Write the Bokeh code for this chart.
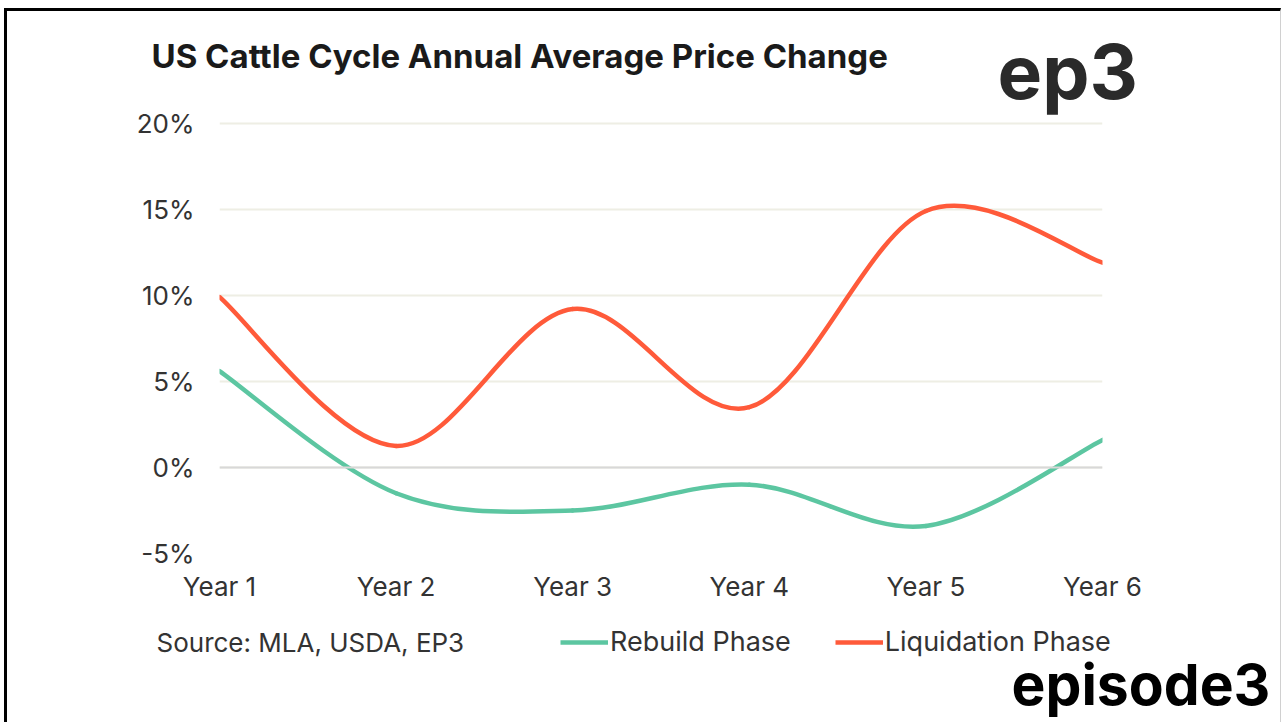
from bokeh.plotting import figure
from bokeh.layouts import column
from bokeh.models import (Range1d, FixedTicker, PrintfTickFormatter, Span, Label,
                          Legend, LegendItem)
from bokeh.embed import file_html
from bokeh.resources import INLINE

years = ["Year 1", "Year 2", "Year 3", "Year 4", "Year 5", "Year 6"]
rebuild = [5.6, -1.5, -2.5, -1.0, -3.4, 1.6]
liquidation = [9.9, 1.25, 9.2, 3.5, 14.9, 11.9]
y_ticks = [-5, 0, 5, 10, 15, 20]

FONT = "Inter"
TXT = "#333333"
TEAL = "#5CC6A1"
ORANGE = "#FF5A3A"
W = 1273

# ---- main chart (title in top panel, logo in right panel)
p = figure(width=W, height=597, output_backend="svg", toolbar_location=None,
           x_range=Range1d(0, len(years) - 1), y_range=Range1d(-5, 20.1),
           min_border_left=212, min_border_right=178, min_border_top=110,
           min_border_bottom=55)
p.frame_align = False
p.outline_line_color = None
xs = list(range(len(years)))
p.xaxis.ticker = FixedTicker(ticks=xs)
p.xaxis.major_label_overrides = {i: y for i, y in enumerate(years)}
p.yaxis.ticker = FixedTicker(ticks=y_ticks)
p.yaxis.formatter = PrintfTickFormatter(format="%d%%")
for ax in (p.xaxis[0], p.yaxis[0]):
    ax.axis_line_color = None
    ax.major_tick_line_color = None
    ax.minor_tick_line_color = None
    ax.major_label_text_font = FONT
    ax.major_label_text_font_size = "26px"
    ax.major_label_text_color = TXT
p.yaxis.major_label_standoff = 19
p.xaxis.major_label_standoff = 11
p.xgrid.grid_line_color = None
p.ygrid.grid_line_color = "#EEEEE4"
p.ygrid.grid_line_width = 2
p.add_layout(Span(location=0, dimension="width", line_color="#D8D8D8", line_width=2))


def bez(vals):
    n = len(vals)
    P = list(zip(xs, vals))
    out = dict(x0=[], y0=[], x1=[], y1=[], cx0=[], cy0=[], cx1=[], cy1=[])
    for i in range(n - 1):
        pm = P[i - 1] if i > 0 else P[i]
        p0, p1 = P[i], P[i + 1]
        p2 = P[i + 2] if i + 2 < n else P[i + 1]
        out["x0"].append(p0[0]); out["y0"].append(p0[1])
        out["x1"].append(p1[0]); out["y1"].append(p1[1])
        out["cx0"].append(p0[0] + (p1[0] - pm[0]) / 6)
        out["cy0"].append(p0[1] + (p1[1] - pm[1]) / 6)
        out["cx1"].append(p1[0] - (p2[0] - p0[0]) / 6)
        out["cy1"].append(p1[1] - (p2[1] - p0[1]) / 6)
    return out


p.bezier(**bez(rebuild), line_color=TEAL, line_width=4.5, line_cap="round")
p.bezier(**bez(liquidation), line_color=ORANGE, line_width=4.5, line_cap="round")

p.add_layout(Label(x=-68, y=66, x_units="screen", y_units="screen",
                   text="US Cattle Cycle Annual Average Price Change",
                   text_font=FONT, text_font_style="bold", text_font_size="33px",
                   text_color="#1a1a1a", text_baseline="middle"), "above")
p.add_layout(Label(x=-105, y=482, x_units="screen", y_units="screen",
                   text="ep3", text_font=FONT, text_font_style="bold",
                   text_font_size="75px", text_color="#2a2a2a",
                   text_baseline="middle"), "right")

# ---- footer: source, legend, logo
foot = figure(width=W, height=114, output_backend="svg", toolbar_location=None,
              x_range=Range1d(0, W), y_range=Range1d(114, 0),
              x_axis_type=None, y_axis_type=None, min_border=0)
foot.frame_align = False
foot.outline_line_color = None
foot.xgrid.grid_line_color = None
foot.ygrid.grid_line_color = None
foot.add_layout(Label(x=149, y=34, text="Source: MLA, USDA, EP3", text_font=FONT,
                      text_font_size="26px", text_color=TXT, text_baseline="middle"))
nan = float("nan")
k1 = foot.line(x=[nan], y=[nan], line_color=TEAL, line_width=4.5)
k2 = foot.line(x=[nan], y=[nan], line_color=ORANGE, line_width=4.5)
legend = Legend(items=[LegendItem(label="Rebuild Phase", renderers=[k1]),
                       LegendItem(label="Liquidation Phase", renderers=[k2])],
                orientation="horizontal", location=(553, 64),
                glyph_width=48, glyph_height=24, label_standoff=2, spacing=44,
                padding=0, margin=0, border_line_color=None,
                background_fill_alpha=0, label_text_font=FONT,
                label_text_font_size="27px", label_text_color=TXT)
foot.add_layout(legend, "center")
foot.add_layout(Label(x=1004, y=76, text="episode3", text_font=FONT,
                      text_font_style="bold", text_font_size="57px",
                      text_color="#000000", text_baseline="middle"))

layout = column(p, foot, spacing=0)
layout.styles = {"margin-left": "4px", "margin-top": "8px",
                 "border-top": "3px solid #000", "border-left": "3px solid #000",
                 "border-right": "1px solid #d0d0d0"}

open("out.html", "w").write(file_html(layout, INLINE))
